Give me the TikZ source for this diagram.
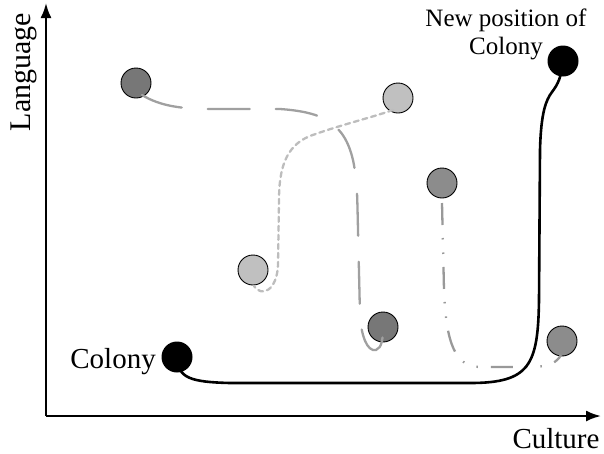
\documentclass[tikz,border=0pt]{standalone}
\usepackage{fontspec}
\setmainfont{Liberation Serif}
\usetikzlibrary{arrows.meta}
\definecolor{darkc}{HTML}{777777}
\definecolor{midc}{HTML}{8C8C8C}
\definecolor{lightc}{HTML}{C0C0C0}
\definecolor{lnA}{HTML}{A0A0A0}
\definecolor{lnB}{HTML}{BDBDBD}
\definecolor{lnC}{HTML}{999999}
\tikzset{
  pt/.style={circle,draw=black,line width=0.9pt,minimum size=30pt,inner sep=0pt},
  blk/.style={circle,fill=black,minimum size=31pt,inner sep=0pt},
  axis/.style={line width=2.2pt,-{Latex[length=15pt,width=11pt]}},
  lbl/.style={inner sep=0pt,font=\fontsize{29}{31}\selectfont},
  trail/.style={line width=2.3pt,line cap=round}
}
\begin{document}
\begin{tikzpicture}[x=1pt,y=-1pt]
\useasboundingbox (0,0) rectangle (604,453);
% axes
\coordinate (O) at (46,416);
\coordinate (Ytop) at (46,3);
\coordinate (Xend) at (601,416);
\draw[axis] (O) -- (Ytop);
\draw[axis] (O) -- (Xend);
\node[lbl,rotate=90,font=\fontsize{30}{32}\selectfont] (ylab) at (24,72) {Language};
\node[lbl,anchor=base] (xlab) at (556,448) {Culture};
% circles
\node[pt,fill=darkc] (c1) at (136,83) {};
\node[pt,fill=lightc] (c2) at (398,98) {};
\node[pt,fill=lightc] (c3) at (253,270) {};
\node[pt,fill=darkc] (c4) at (383,327) {};
\node[pt,fill=midc] (c5) at (442,183) {};
\node[pt,fill=midc] (c6) at (562,341) {};
\node[blk] (col) at (177,357) {};
\node[blk] (newc) at (563,61) {};
\node[lbl,anchor=base east] (colt) at (156,368) {Colony};
\node[inner sep=0pt,font=\fontsize{25}{28}\selectfont,align=center,anchor=north] (newt) at (506,9) {New position of\\Colony};
% trails
\draw[trail,lnA,dash pattern=on 42pt off 26pt] (c1.center) ++(6,12)
  .. controls (160,106) and (180,108) .. (200,109) -- (280,109)
  .. controls (322,112) and (346,122) .. (354,165)
  .. controls (357,185) .. (358,230) -- (360,315)
  .. controls (361,335) and (367,352) .. (376,350)
  .. controls (382,348) and (383,338) .. (c4.center);
\draw[trail,lnB,dash pattern=on 5pt off 4pt] (c2.center) ++(-5,12)
  .. controls (370,118) and (340,125) .. (310,136)
  .. controls (285,146) and (279,170) .. (279,200) -- (278,265)
  .. controls (277,290) and (262,298) .. (254,286);
\draw[trail,lnC,line cap=butt,dash pattern=on 22pt off 13pt on 1.5pt off 13pt on 1.5pt off 13pt] (c5.center) ++(0,20)
  -- (444,290) .. controls (446,345) and (456,367) .. (480,367) -- (530,367)
  .. controls (550,367) and (557,362) .. (561,355);
\draw[line width=2.6pt,black] (col.center)
  .. controls (178,378) and (190,382) .. (230,383) -- (470,383)
  .. controls (530,383) and (538,365) .. (539,300) -- (540,150)
  .. controls (541,112) and (546,100) .. (552,92)
  .. controls (558,84) and (561,78) .. (newc.center);
\end{tikzpicture}
\end{document}
